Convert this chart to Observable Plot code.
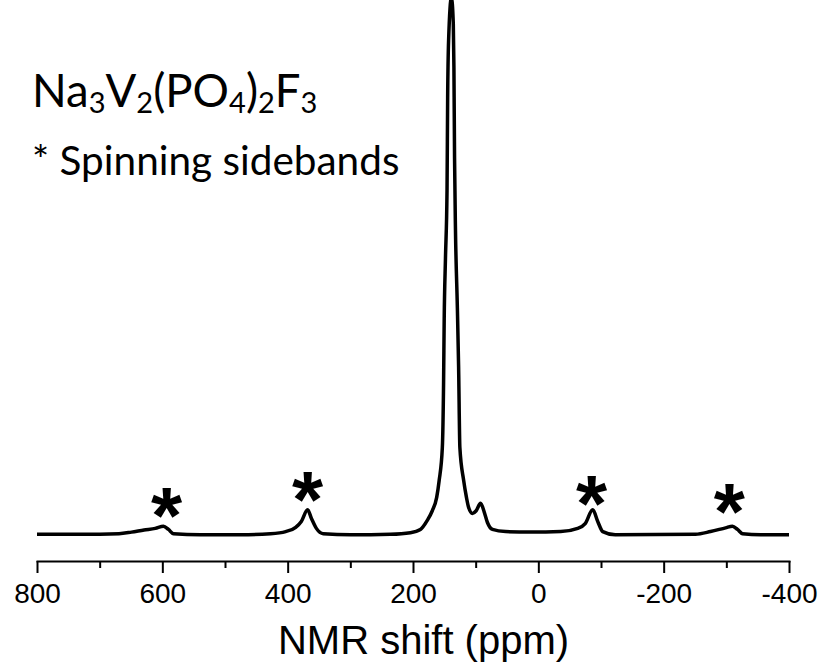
<!DOCTYPE html>
<html><head><meta charset="utf-8">
<script src="https://cdn.jsdelivr.net/npm/d3@7"></script>
<script src="https://cdn.jsdelivr.net/npm/@observablehq/plot@0.6"></script>
<style>
body{margin:0;background:#fff}
#chart{width:822px;height:666px}
#chart svg text{font-family:"Liberation Sans", Arial, sans-serif}
#chart g[aria-label="x-axis tick label"]{font-size:28px}
</style>
</head><body><div id="chart"></div>
<script>
// NMR spectrum of Na3V2(PO4)2F3
const shiftPpm = [800, 731, 670, 650, 630, 612, 599, 591, 583, 540, 476, 428, 404, 388, 379, 369, 363, 355, 344, 300, 237,
  205, 189, 178, 170, 163, 159, 154, 152, 151, 149, 146.5, 145.5, 144, 139.5, 136.5, 135.5, 134.5, 133, 130, 128,
  126, 120, 115.5, 112, 106, 100, 93, 87, 82, 74, 53, 13, -35, -62, -74, -86, -94, -102, -122, -250,
  -274, -298, -309, -317, -325, -354, -400];
const intensity = [0.1, 0.1, 0.2, 0.5, 0.9, 1.2, 1.6, 1.0, 0.2, 0, 0, 0.2, 0.6, 1.4, 2.5, 4.7, 3.1, 1.2, 0.2, 0, 0.1,
  0.4, 1.0, 2.7, 4.5, 7.0, 10.2, 16.3, 28.5, 40.5, 51.7, 64.4, 81.8, 92.5, 100.5, 95.7, 87.5, 70.6, 56.9, 42.5, 31.3,
  16.3, 10.2, 7.0, 5.1, 4.0, 4.5, 5.9, 4.2, 2.3, 1.0, 0.6, 0.5, 0.6, 1.2, 2.1, 4.7, 2.5, 0.6, 0, 0.1,
  0.6, 1.3, 1.6, 1.0, 0.2, 0, 0];
const sidebandPpm = [594, 369, -84, -304];
const sidebandMarkY = [7.0, 10.0, 9.3, 7.8];
const majorTicks = [800, 600, 400, 200, 0, -200, -400];
const minorTicks = [700, 500, 300, 100, -100, -300];
const xTitle = "NMR shift (ppm)";
const compoundParts = ["Na", "3", "V", "2", "(PO", "4", ")", "2", "F", "3"];
const compoundIsSub = [false, true, false, true, false, true, false, true, false, true];
const legendText = "* Spinning sidebands";

const spectrum = shiftPpm.map((x, i) => ({x, y: intensity[i]}));
const stars = sidebandPpm.map((x, i) => ({x, y: sidebandMarkY[i]}));

const plot = Plot.plot({
  width: 822, height: 666,
  marginTop: 0, marginBottom: 105, marginLeft: 37, marginRight: 33,
  style: {background: "white", color: "black"},
  x: {domain: [800, -400], axis: null, label: null},
  y: {domain: [-5, 100], axis: null, label: null},
  marks: [
    Plot.axisX({ticks: minorTicks, tickSize: 7, tickFormat: () => "", strokeWidth: 2, label: null}),
    Plot.axisX({ticks: majorTicks, tickSize: 12, tickPadding: 10, fontSize: 28, strokeWidth: 2, label: null,
      tickFormat: d => String(d)}),
    Plot.frame({anchor: "bottom", strokeWidth: 2}),
    Plot.line(spectrum, {x: "x", y: "y", curve: "monotone-x", strokeWidth: 3.5, clip: true}),
    Plot.text(stars, {x: "x", y: "y", text: () => "*", fontSize: 80, fontWeight: "bold", dy: 20}),
    Plot.text([xTitle], {frameAnchor: "bottom", lineAnchor: "bottom", dy: 92, dx: 10, fontSize: 40})
  ]
});

const svg = d3.select(plot);
const title = svg.append("text").attr("x", 32).attr("y", 107).attr("text-anchor", "start")
  .style("font-family", "Lato, 'Open Sans', sans-serif").style("font-size", "45.5px").attr("fill", "black");
compoundParts.forEach((p, i) => {
  const prevSub = i > 0 && compoundIsSub[i - 1];
  const ts = title.append("tspan").text(p);
  if (compoundIsSub[i]) ts.style("font-size", "29px").attr("dy", 6);
  else if (prevSub) ts.attr("dy", -6);
});
svg.append("text").attr("x", 32).attr("y", 175).attr("text-anchor", "start")
  .style("font-family", "Lato, 'Open Sans', sans-serif").style("font-size", "40.5px").attr("fill", "black")
  .text(legendText);

document.getElementById("chart").appendChild(plot);
</script>
</body></html>
